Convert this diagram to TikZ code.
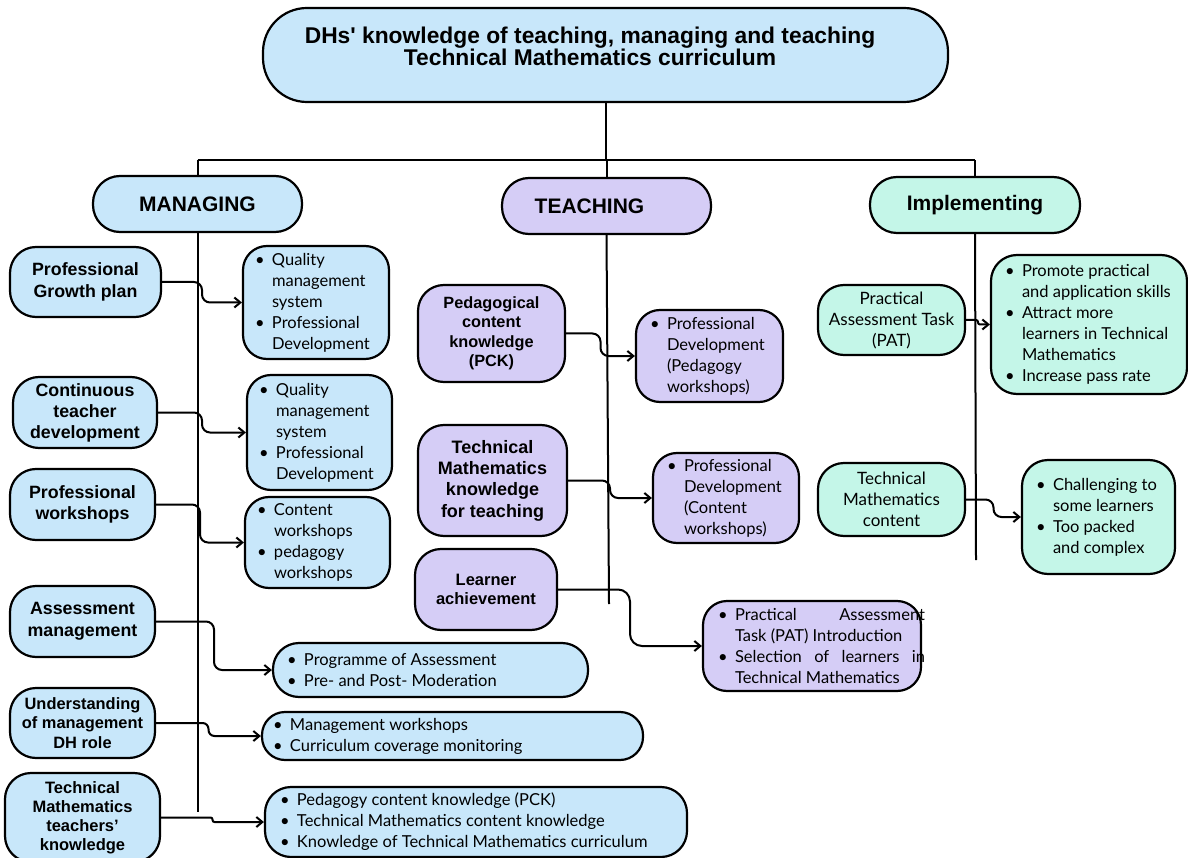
\documentclass[tikz,border=0pt]{standalone}
\usepackage{fontspec}
\setmainfont{Liberation Sans}
\newfontfamily\listfont{Lato}
\usetikzlibrary{arrows.meta,calc}

\definecolor{mgblue}{HTML}{C8E7FA}
\definecolor{tclav}{HTML}{D5CDF6}
\definecolor{immint}{HTML}{C4F6E8}

% bullet lists: a minipage of hanging bullet items, lines broken with \newline
% \blist{width}{left pad}{right skip}{items}
\newlength\bulletind
\setlength\bulletind{17pt}
\newcommand\bitem{\noindent\hangindent=\bulletind\hangafter=1\makebox[\bulletind][l]{\textbullet}}
\newcommand\blist[4]{\begin{minipage}{#1pt}\leftskip=#2pt\relax\rightskip=#3pt plus 1fil\relax
  \parindent=0pt\parskip=0pt\relax #4\end{minipage}}

\begin{document}
\begin{tikzpicture}[x=1pt,y=-1pt,
  every node/.style={inner sep=0pt},
  frame/.style={draw=black, line width=2.2pt},
  hdr/.style={frame, rounded corners=27pt, font=\bfseries\fontsize{21}{24}\selectfont},
  lbl/.style={frame, rounded corners=26pt, align=center, font=\bfseries\fontsize{17.8}{21.5}\selectfont},
  plainlbl/.style={frame, rounded corners=26pt, align=center, font=\listfont\fontsize{17}{21}\selectfont},
  lst/.style={frame, rounded corners=24pt, font=\listfont\fontsize{16.5}{21}\selectfont},
  link/.style={line width=2pt, draw=black},
  arrowlink/.style={link, rounded corners=8pt, -{Straight Barb[length=6pt,width=10pt]}},
  elbow/.style={to path={let \p1=(\tikztostart), \p2=(\tikztotarget) in
      -- ({(\x1+\x2)/2},\y1) -- ({(\x1+\x2)/2},\y2) -- (\p2)}},
  mfill/.style={fill=mgblue},
  tfill/.style={fill=tclav},
  ifill/.style={fill=immint}
]
\useasboundingbox (0,0) rectangle (1188,858);
\fill[white] (0,0) rectangle (1188,858);
\clip (0,0) rectangle (1188,858);

% ---------- title ----------
\node[frame, mfill, rounded corners=44pt, minimum width=685pt, minimum height=94pt] (ttl) at (605.5,55) {};
\node[font=\bfseries\fontsize{22.8}{22}\selectfont, align=center] (ttltext) at (590,46)
  {DHs\textquotesingle{} knowledge of teaching, managing and teaching\\Technical Mathematics curriculum};

% ---------- branch headers ----------
\node[hdr, mfill, minimum width=209pt, minimum height=56pt] (man) at (197.5,204) {MANAGING};
\node[hdr, tfill, minimum width=209pt, minimum height=56pt] (tea) at (606.5,206) {\hspace*{-17pt}TEACHING\hspace*{17pt}};
\node[hdr, ifill, minimum width=210pt, minimum height=56pt] (imp) at (975,205) {Implementing};

% ---------- managing ----------
\node[lbl, mfill, minimum width=151pt, minimum height=70pt] (m1) at (85.5,282) {Professional\\Growth plan};
\node[lbl, mfill, minimum width=144pt, minimum height=71pt, font=\bfseries\fontsize{17.8}{21}\selectfont] (m2) at (85,412.5) {Continuous\\teacher\\development};
\node[lbl, mfill, minimum width=145pt, minimum height=71pt] (m3) at (82.5,504.5) {Professional\\workshops};
\node[lbl, mfill, minimum width=145pt, minimum height=71pt] (m4) at (82.5,621.5) {Assessment\\management};
\node[lbl, mfill, minimum width=145pt, minimum height=70pt, font=\bfseries\fontsize{16.4}{19.5}\selectfont] (m5) at (82.5,723) {Understanding\\of management\\DH role};
\node[lbl, mfill, minimum width=155pt, minimum height=89pt, font=\bfseries\fontsize{16.5}{19}\selectfont] (m6) at (82.5,817.5) {Technical\\Mathematics\\teachers’\\knowledge};

\node[lst, mfill, minimum width=146pt, minimum height=113pt] (r1) at (316,302.5)
  {\blist{146}{12}{-30}{\bitem Quality\newline management\newline system\par\bitem Professional\newline Development}};
\node[lst, mfill, minimum width=145pt, minimum height=115pt] (r2) at (319.5,432.5)
  {\blist{145}{12}{-30}{\bitem Quality\newline management\newline system\par\bitem Professional\newline Development}};
\node[lst, mfill, minimum width=145pt, minimum height=91pt] (r3) at (317.5,542.5)
  {\blist{145}{12}{-30}{\bitem Content\newline workshops\par\bitem pedagogy\newline workshops}};
\node[lst, mfill, minimum width=315pt, minimum height=54pt, rounded corners=26pt] (r4) at (430.5,670)
  {\blist{315}{14}{-30}{\bitem Programme of Assessment\par\bitem Pre- and Post- Moderation}};
\node[lst, mfill, minimum width=381pt, minimum height=48pt, rounded corners=23pt] (r5) at (452.5,736)
  {\blist{381}{11}{-30}{\bitem Management workshops\par\bitem Curriculum coverage monitoring}};
\node[lst, mfill, minimum width=422pt, minimum height=70pt, rounded corners=26pt] (r6) at (476,822)
  {\blist{422}{15}{-30}{\bitem Pedagogy content knowledge (PCK)\par\bitem Technical Mathematics content knowledge\par\bitem Knowledge of Technical Mathematics curriculum}};

% ---------- teaching ----------
\node[lbl, tfill, minimum width=147pt, minimum height=97pt, font=\bfseries\fontsize{16.3}{19.5}\selectfont] (t1) at (491.5,333.5) {Pedagogical\\content\\knowledge\\(PCK)};
\node[lbl, tfill, minimum width=149pt, minimum height=111pt, font=\bfseries\fontsize{18}{21.3}\selectfont] (t3) at (492.5,480.5) {Technical\\Mathematics\\knowledge\\for teaching};
\node[lbl, tfill, minimum width=142pt, minimum height=81pt, font=\bfseries\fontsize{16.5}{19.5}\selectfont] (t5) at (486,589.5) {Learner\\achievement};

\node[lst, tfill, minimum width=147pt, minimum height=92pt] (t2) at (709.5,356)
  {\blist{147}{14}{-30}{\bitem Professional\newline Development\newline (Pedagogy\newline workshops)}};
\node[lst, tfill, minimum width=146pt, minimum height=90pt] (t4) at (726,498)
  {\blist{146}{14}{-30}{\bitem Professional\newline Development\newline (Content\newline workshops)}};
\node[lst, tfill, minimum width=218pt, minimum height=90pt] (t6) at (812,646)
  {\blist{218}{15}{-4}{\bitem Practical\hfill Assessment\newline Task (PAT) Introduction\par
   \bitem Selection\hfill of\hfill learners\hfill in\newline Technical Mathematics}};

% ---------- implementing ----------
\node[plainlbl, ifill, minimum width=147pt, minimum height=70pt] (i1) at (891.5,320) {Practical\\Assessment Task\\(PAT)};
\node[plainlbl, ifill, minimum width=147pt, minimum height=73pt] (i3) at (891.5,499.5) {Technical\\Mathematics\\content};

\node[lst, ifill, minimum width=196pt, minimum height=139pt, rounded corners=26pt] (i2) at (1089,324.5)
  {\blist{196}{14}{-30}{\bitem Promote practical\newline and application skills\par
   \bitem Attract more\newline learners in Technical\newline Mathematics\par
   \bitem Increase pass rate}};
\node[lst, ifill, minimum width=153pt, minimum height=114pt, rounded corners=26pt] (i4) at (1098.5,517)
  {\blist{153}{14}{-30}{\bitem Challenging to\newline some learners\par\bitem Too packed\newline and complex}};

% ---------- trunk and spines ----------
\coordinate (hub) at (606,160);
\coordinate (mend) at (197.5,812);
\coordinate (tend) at (609,604);
\coordinate (iend) at (976,560);
\draw[link] (ttl.south) -- (ttl.south |- hub);
\draw[link] (man.north |- hub) -- (imp.north |- hub);
\draw[link] (man.north |- hub) -- (man.north);
\draw[link] (tea.north |- hub) -- (tea.north);
\draw[link] (imp.north |- hub) -- (imp.north);
\draw[link] (man.south) -- (mend);
\draw[link] (tea.south) -- (tend);
\draw[link] (imp.south) -- (iend);

% ---------- connectors ----------
\draw[arrowlink] (m1.east) to[elbow] (r1.west);
\draw[arrowlink] (m2.east) to[elbow] (r2.west);
\draw[arrowlink] (m3.east) to[elbow] (r3.west);
\draw[arrowlink] (m4.east) to[elbow] (r4.west);
\draw[arrowlink, rounded corners=6pt] (m5.east) to[elbow] (r5.west);
\draw[arrowlink, rounded corners=2pt] (m6.east) to[elbow] (r6.west);
\draw[arrowlink] (t1.east) to[elbow] (t2.west);
\draw[arrowlink] (t3.east) to[elbow] (t4.west);
\draw[arrowlink, rounded corners=12pt] (t5.east) to[elbow] (t6.west);
\draw[arrowlink, rounded corners=2pt] (i1.east) to[elbow] (i2.west);
\draw[arrowlink] (i3.east) to[elbow] (i4.west);
\end{tikzpicture}
\end{document}
